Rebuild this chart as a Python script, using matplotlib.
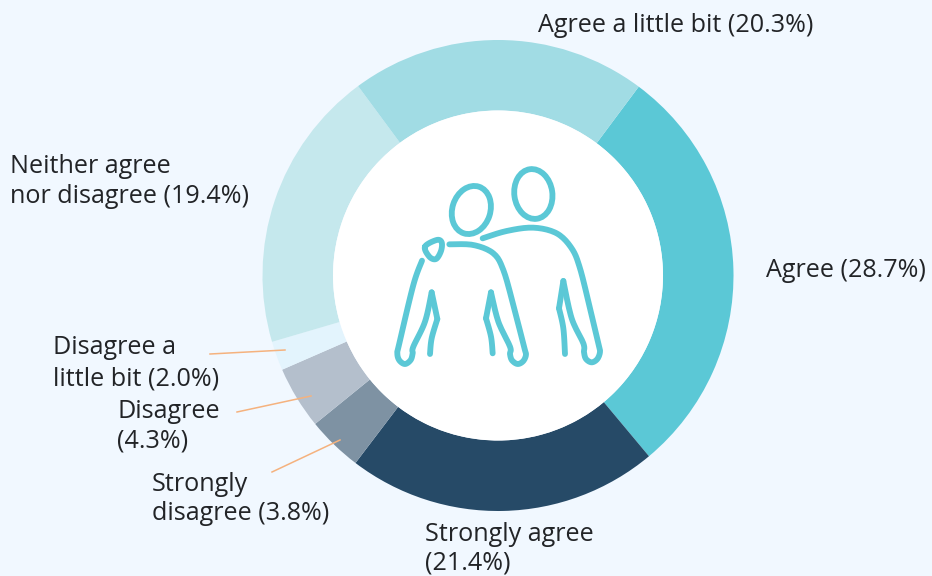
import matplotlib
matplotlib.use('Agg')
import numpy as np
import matplotlib.pyplot as plt
from matplotlib.patches import Circle, Ellipse

# datos del grafico (sentido horario desde "Agree")
categorias = ['Agree', 'Strongly agree', 'Strongly disagree', 'Disagree',
              'Disagree a little bit', 'Neither agree nor disagree', 'Agree a little bit']
valores = [28.7, 21.4, 3.8, 4.3, 2.0, 19.4, 20.3]
colores = ['#5bc8d6', '#264a67', '#7e92a3', '#b4bfcc', '#e3f4fd', '#c5e8ed', '#a1dce4']

FONDO = '#f1f8ff'
TEXTO = '#222427'
LINEA = '#f5b27e'
ICONO = '#5bc8d6'

plt.rcParams['font.family'] = ['Open Sans', 'DejaVu Sans']

fig = plt.figure(figsize=(9.32, 5.76), dpi=100, facecolor=FONDO)
ax = fig.add_axes([0, 0, 1, 1])
ax.set_xlim(0, 932)
ax.set_ylim(0, 576)
ax.set_aspect('equal')
ax.axis('off')


def py(y):
    return 576 - y


# dona
cx, cy, radio, ancho = 498, py(275.5), 235.5, 70.5
ax.pie(valores, colors=colores, startangle=53.3, counterclock=False, center=(cx, cy),
       radius=radio, wedgeprops={'width': ancho, 'linewidth': 0}, frame=True)
ax.set_xlim(0, 932)
ax.set_ylim(0, 576)
ax.axis('off')
ax.add_patch(Circle((cx, cy), radio - ancho, color='white', lw=0, zorder=3))

# etiquetas
etiquetas = [
    ('Agree a little bit (20.3%)', 538, 32),
    ('Agree (28.7%)', 766, 277),
    ('Strongly agree', 425, 541),
    ('(21.4%)', 425, 570),
    ('Neither agree', 10, 173),
    ('nor disagree (19.4%)', 10, 203),
    ('Disagree a', 53, 354),
    ('little bit (2.0%)', 53, 385),
    ('Disagree', 117, 418),
    ('(4.3%)', 117, 448),
    ('Strongly', 152, 491),
    ('disagree (3.8%)', 152, 520),
]
for texto, x, y in etiquetas:
    ax.text(x, py(y), texto, fontsize=18.1, color=TEXTO, ha='left', va='baseline', zorder=5)

# lineas guia
guias = [((210, 354), (285, 350)), ((237, 412), (311, 396)), ((272, 472), (340, 440))]
for a, b in guias:
    ax.plot([a[0], b[0]], [py(a[1]), py(b[1])], color=LINEA, lw=1.1, zorder=5)


# icono: coordenadas tomadas del recorte (escala 3x desde 380,155)
def trazo(puntos, cerrado=False):
    p = np.array(puntos, dtype=float)
    if cerrado:
        p = np.vstack([p[-1], p, p[:2]])
    else:
        p = np.vstack([p[0], p, p[-1]])
    xs, ys = [], []
    for i in range(1, len(p) - 2):
        for t in np.linspace(0, 1, 12):
            c = 0.5 * ((2 * p[i]) + (p[i + 1] - p[i - 1]) * t
                       + (2 * p[i - 1] - 5 * p[i] + 4 * p[i + 1] - p[i + 2]) * t ** 2
                       + (3 * p[i] - p[i - 1] - 3 * p[i + 1] + p[i + 2]) * t ** 3)
            xs.append(380 + c[0] / 3)
            ys.append(py(155 + c[1] / 3))
    ax.plot(xs, ys, color=ICONO, lw=4.2, solid_capstyle='round', solid_joinstyle='round', zorder=4)


# persona derecha
trazo([(308, 250), (380, 228), (460, 218), (530, 235), (575, 280), (600, 340), (630, 460),
       (655, 565), (660, 590), (652, 612), (635, 622), (618, 612), (612, 592), (610, 565), (575, 490), (550, 378)])
trazo([(550, 378), (537, 460)])
trazo([(537, 460), (550, 520), (555, 597)])
# persona izquierda
trazo([(208, 268), (280, 270), (340, 295), (370, 345), (400, 450), (432, 575), (438, 598), (430, 618), (413, 627),
       (396, 616), (390, 597), (390, 575), (355, 500), (333, 412)])
trazo([(333, 412), (318, 490)])
trazo([(318, 490), (333, 545), (338, 595)])
trazo([(126, 317), (100, 390), (58, 565), (52, 595), (58, 616), (75, 627), (92, 615), (98, 595), (100, 575),
       (135, 500), (155, 412)])
trazo([(155, 412), (172, 492)])
trazo([(172, 492), (155, 550), (150, 597)])
# mano
trazo([(135, 275), (170, 255), (185, 262), (183, 288), (168, 312), (148, 305)], cerrado=True)
# cabezas
ax.add_patch(Ellipse((380 + 274 / 3, py(155 + 165 / 3)), 38, 49, angle=-18, fill=False,
                     ec=ICONO, lw=4.2, zorder=4))
ax.add_patch(Ellipse((380 + 460 / 3, py(155 + 117 / 3)), 38, 50, angle=8, fill=False,
                     ec=ICONO, lw=4.2, zorder=4))

fig.savefig('out.png', dpi=100, facecolor=FONDO)
